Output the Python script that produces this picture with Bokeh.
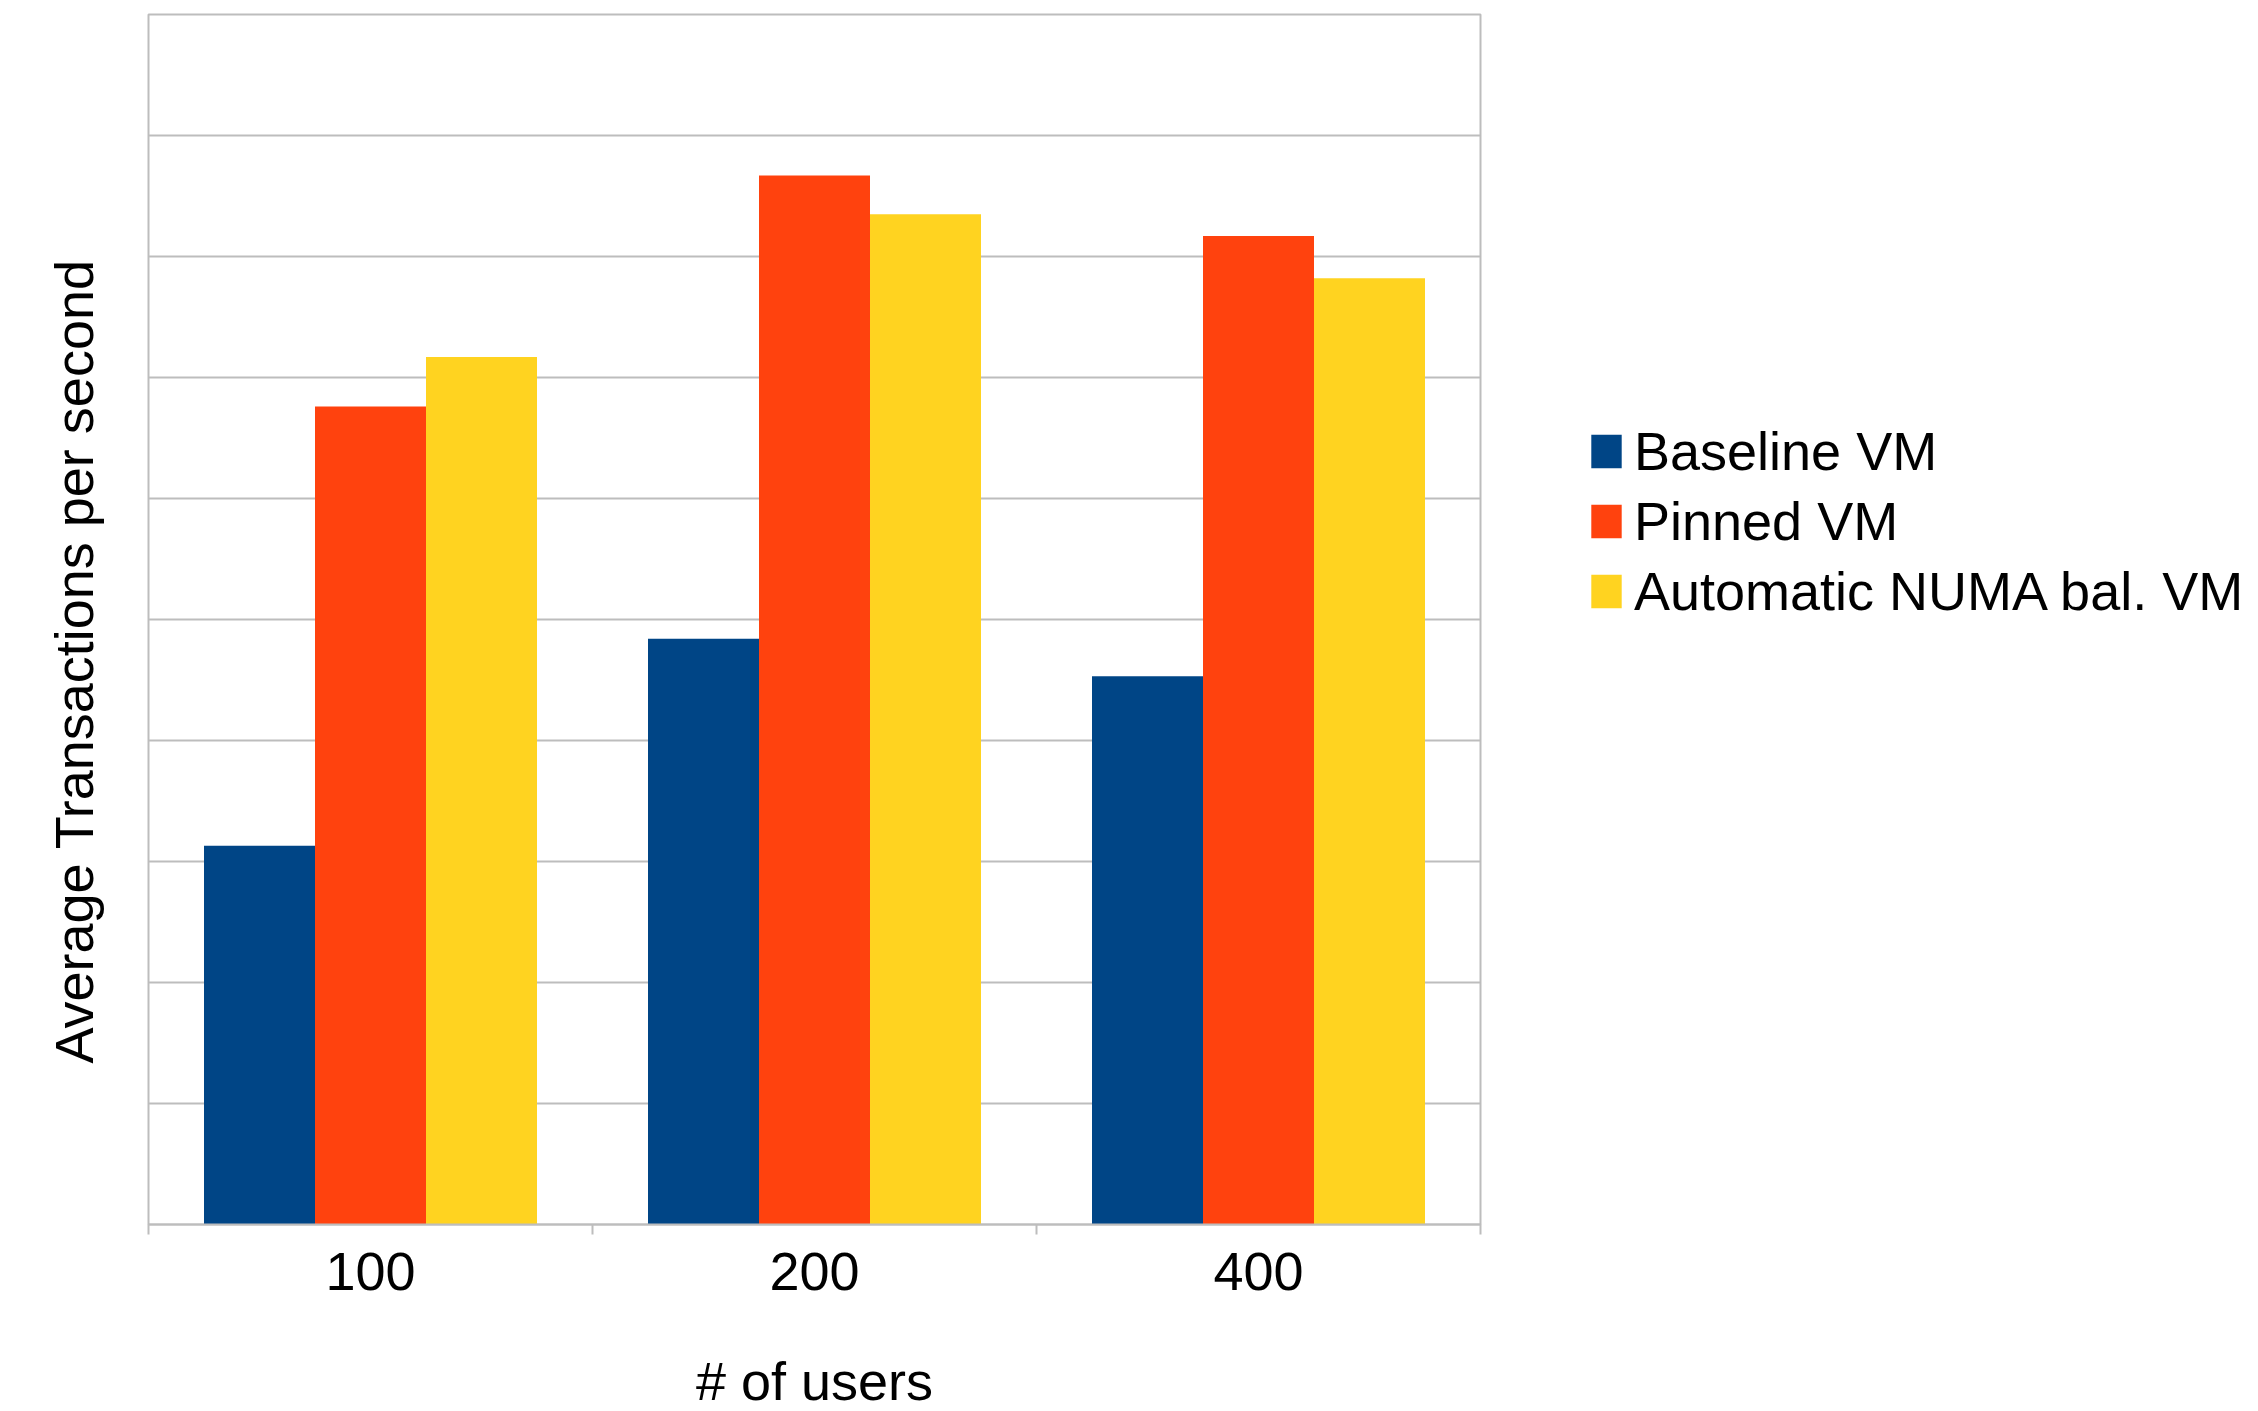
from bokeh.plotting import figure
from bokeh.models import ColumnDataSource, FixedTicker, Legend, LegendItem, Range1d, Title
from bokeh.transform import dodge
from bokeh.embed import file_html
from bokeh.resources import INLINE

# ---- data ----
categories = ["100", "200", "400"]
baseline_vm = [3.13, 4.84, 4.53]
pinned_vm = [6.76, 8.67, 8.17]
auto_numa_vm = [7.17, 8.35, 7.82]
series_names = ["Baseline VM", "Pinned VM", "Automatic NUMA bal. VM"]
y_ticks = [0, 1, 2, 3, 4, 5, 6, 7, 8, 9, 10]
x_title = "# of users"
y_title = "Average Transactions per second"

# ---- style ----
colors = ["#004586", "#ff420e", "#ffd320"]
FONT = "Liberation Sans"
GRID = "#bdbdbd"
FW, FH = 1332, 1210

n = len(categories)
xpos = [i + 0.5 for i in range(n)]
source = ColumnDataSource(dict(x=xpos, cat=categories, b=baseline_vm, p=pinned_vm, a=auto_numa_vm))

p = figure(frame_width=FW, frame_height=FH,
           x_range=Range1d(0, n), y_range=Range1d(0, y_ticks[-1]),
           output_backend="svg", toolbar_location=None,
           min_border_left=148, min_border_top=14, min_border_bottom=0, min_border_right=762)

r1 = p.vbar(x=dodge("x", -0.25), top="b", width=0.25, source=source, fill_color=colors[0], line_color=None)
r2 = p.vbar(x=dodge("x", 0.0), top="p", width=0.25, source=source, fill_color=colors[1], line_color=None)
r3 = p.vbar(x=dodge("x", 0.25), top="a", width=0.25, source=source, fill_color=colors[2], line_color=None)

p.outline_line_color = GRID
p.outline_line_width = 2
p.background_fill_color = "white"
p.border_fill_color = "white"

# x axis: category labels at centres, tick marks at category boundaries
xa = p.xaxis[0]
xa.ticker = FixedTicker(ticks=xpos, minor_ticks=list(range(n + 1)))
xa.major_label_overrides = {x: c for x, c in zip(xpos, categories)}
xa.major_tick_out = 0
xa.major_tick_in = 0
xa.minor_tick_out = 10
xa.minor_tick_in = 0
xa.minor_tick_line_color = GRID
xa.minor_tick_line_width = 2
xa.axis_line_color = GRID
xa.axis_line_width = 2
xa.major_label_text_font = FONT
xa.major_label_text_font_size = "54px"
xa.major_label_text_color = "black"
xa.major_label_standoff = 18
xa.axis_label = x_title
xa.axis_label_text_font = FONT
xa.axis_label_text_font_size = "54px"
xa.axis_label_text_font_style = "normal"
xa.axis_label_text_color = "black"
xa.axis_label_standoff = 58

# y axis hidden (no tick labels in the original); grid only
p.yaxis.visible = False
p.ygrid.ticker = FixedTicker(ticks=y_ticks)
p.xgrid.visible = False
p.ygrid.grid_line_color = GRID
p.ygrid.grid_line_width = 2

# y title as a side-panel title (sits a little below centre, as in the original)
yt = Title(text=y_title, align="left", vertical_align="top", offset=161, standoff=86,
           text_font=FONT, text_font_size="54px", text_font_style="normal", text_color="black")
p.add_layout(yt, "left")

legend = Legend(items=[LegendItem(label=series_names[0], renderers=[r1]),
                       LegendItem(label=series_names[1], renderers=[r2]),
                       LegendItem(label=series_names[2], renderers=[r3])],
                location=(107, 598))
legend.label_text_font = FONT
legend.label_text_font_size = "54px"
legend.label_text_color = "black"
legend.glyph_width = 38
legend.glyph_height = 42
legend.label_standoff = 9
legend.label_height = 70
legend.spacing = 0
legend.padding = 0
legend.margin = 0
legend.border_line_color = None
legend.background_fill_alpha = 0
p.add_layout(legend, "right")

open("out.html", "w").write(file_html(p, INLINE))
